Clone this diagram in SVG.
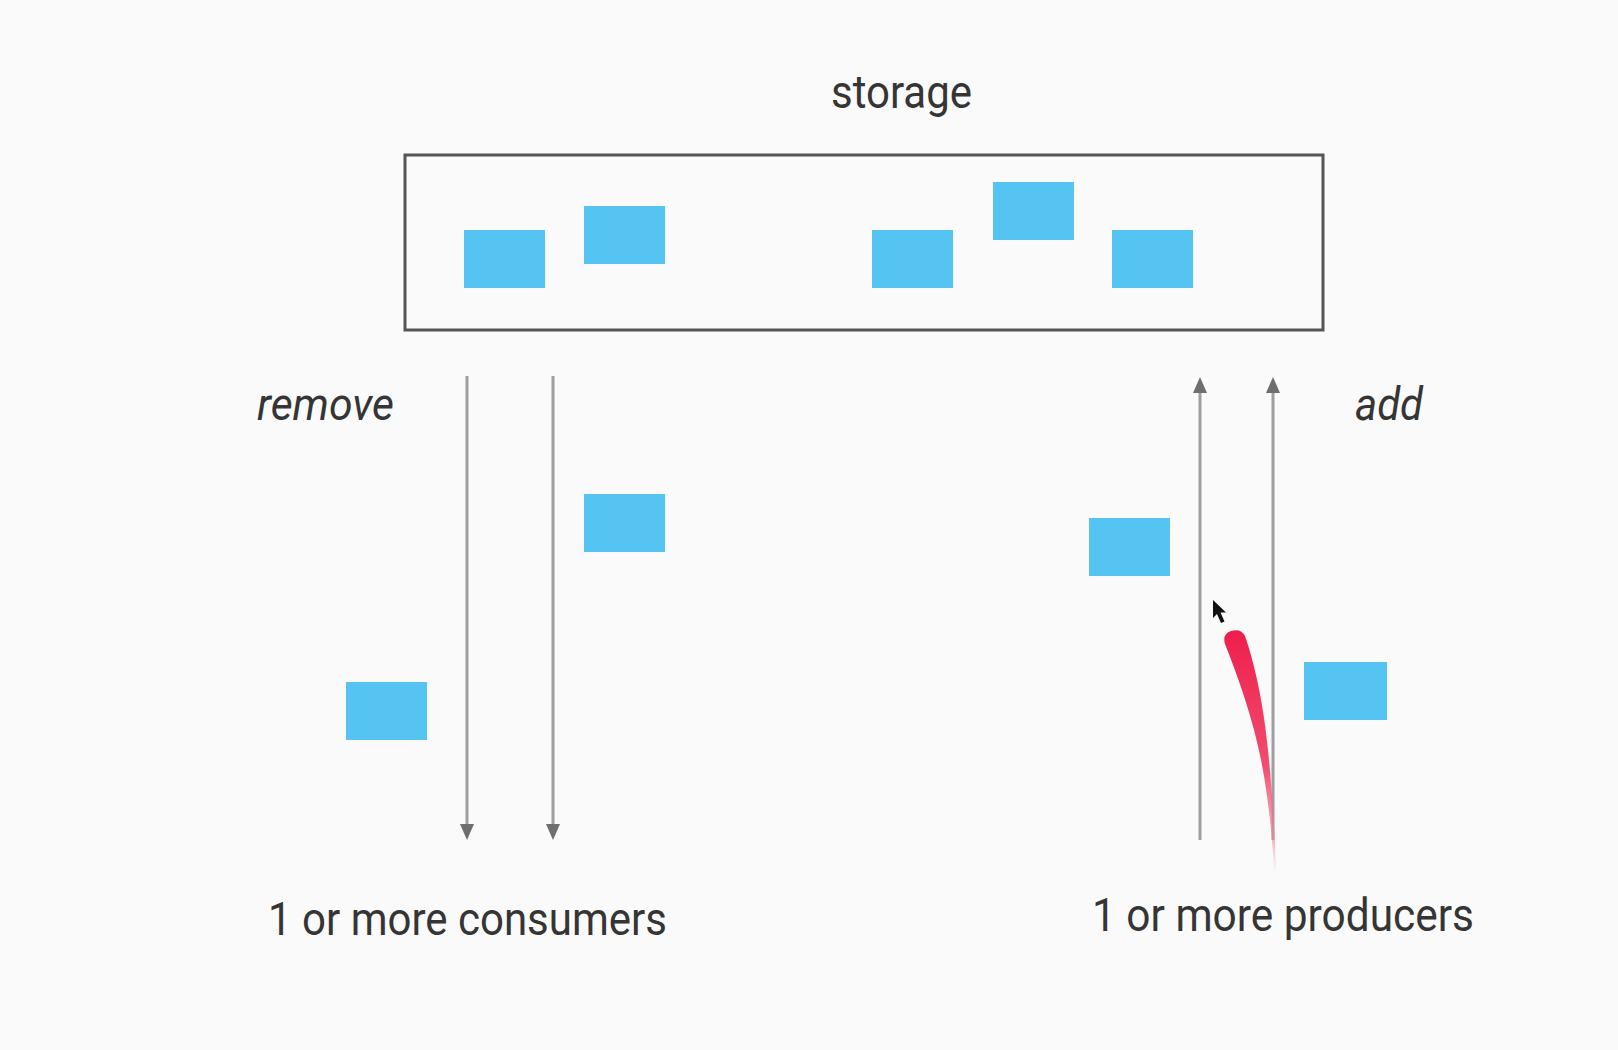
<svg xmlns="http://www.w3.org/2000/svg" width="1618" height="1050" viewBox="0 0 1618 1050">
  <style>
    .lbl { font-family: Roboto, "Liberation Sans", sans-serif; font-size: 47px; fill: #353535; }
    .it { font-style: italic; }
    .item { fill: #56c4f3; }
    .conn { stroke: #9e9e9e; stroke-width: 3; fill: none; }
  </style>
  <defs>
    <marker id="ah" markerUnits="userSpaceOnUse" markerWidth="16" markerHeight="14" viewBox="0 0 16 14" refX="8" refY="7" orient="auto">
      <path d="M0,0 L16,7 L0,14 z" fill="#6e6e6e"/>
    </marker>
    <linearGradient id="trail" x1="0" y1="630" x2="0" y2="880" gradientUnits="userSpaceOnUse">
      <stop offset="0" stop-color="#ee1e4c" stop-opacity="1"/>
      <stop offset="0.55" stop-color="#f14468" stop-opacity="0.95"/>
      <stop offset="0.85" stop-color="#f78aa0" stop-opacity="0.6"/>
      <stop offset="1" stop-color="#fbd0d8" stop-opacity="0"/>
    </linearGradient>
  </defs>
  <rect width="1618" height="1050" fill="#fafafa"/>

  <g id="storage">
    <text class="lbl" x="831" y="108" textLength="141" lengthAdjust="spacingAndGlyphs">storage</text>
    <rect x="405" y="155" width="918" height="175" fill="none" stroke="#555" stroke-width="3"/>
    <rect class="item" x="464" y="230" width="81" height="58"/>
    <rect class="item" x="584" y="206" width="81" height="58"/>
    <rect class="item" x="872" y="230" width="81" height="58"/>
    <rect class="item" x="993" y="182" width="81" height="58"/>
    <rect class="item" x="1112" y="230" width="81" height="58"/>
  </g>

  <g id="consumers">
    <text class="lbl it" x="257" y="420" textLength="137" lengthAdjust="spacingAndGlyphs">remove</text>
    <rect class="item" x="584" y="494" width="81" height="58"/>
    <rect class="item" x="346" y="682" width="81" height="58"/>
    <text class="lbl" x="268" y="935" textLength="399" lengthAdjust="spacingAndGlyphs">1 or more consumers</text>
  </g>

  <g id="producers">
    <text class="lbl it" x="1355" y="420" textLength="68" lengthAdjust="spacingAndGlyphs">add</text>
    <rect class="item" x="1089" y="518" width="81" height="58"/>
    <rect class="item" x="1304" y="662" width="83" height="58"/>
    <text class="lbl" x="1092" y="931" textLength="382" lengthAdjust="spacingAndGlyphs">1 or more producers</text>
  </g>

  <g id="connectors">
    <line class="conn" x1="467" y1="376" x2="467" y2="832" marker-end="url(#ah)"/>
    <line class="conn" x1="553" y1="376" x2="553" y2="832" marker-end="url(#ah)"/>
    <line class="conn" x1="1200" y1="840" x2="1200" y2="385" marker-end="url(#ah)"/>
    <line class="conn" x1="1273" y1="840" x2="1273" y2="385" marker-end="url(#ah)"/>
  </g>

  <g id="pointer">
    <path d="M1225,644 Q1222,634 1231,631 Q1241,628 1245,636 C1254,662 1263,700 1268,750 C1272,790 1275,830 1276,870 L1274,870 C1272,830 1267,790 1261,760 C1253,720 1240,682 1225,644 z" fill="url(#trail)"/>
    <polygon points="1213,600 1213,618 1217,614 1221,623 1224.5,621.5 1220.5,612.5 1226,612.5" fill="#111"/>
  </g>
</svg>
